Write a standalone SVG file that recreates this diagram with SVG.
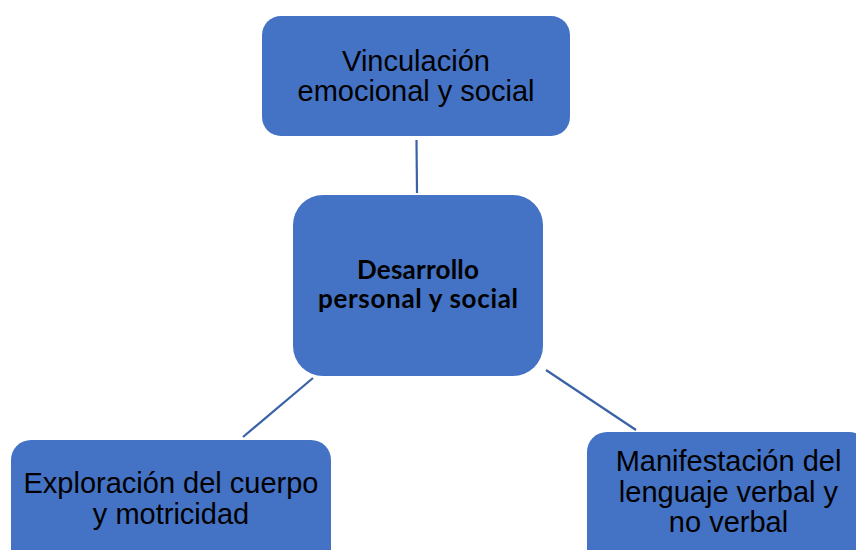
<svg xmlns="http://www.w3.org/2000/svg" width="856" height="550" viewBox="0 0 856 550">
<style>
.box{fill:#4472C4;}
.t{font-family:"Liberation Sans",Arial,sans-serif;font-size:29px;fill:#000;text-anchor:middle;}
.b{font-family:Lato,"Liberation Sans",sans-serif;font-weight:bold;font-size:26px;fill:#000;text-anchor:middle;}
.c{stroke:#3A62A8;stroke-width:2.2;fill:none;}
</style>
<rect width="856" height="550" fill="#fff"/>
<g id="connectors">
<line class="c" x1="416.5" y1="140" x2="417" y2="193"/>
<line class="c" x1="313" y1="378" x2="243" y2="437"/>
<line class="c" x1="546" y1="370" x2="636" y2="430"/>
</g>
<g id="n-vinculacion">
<rect class="box" x="262" y="16" width="308" height="120" rx="19"/>
<text class="t" x="416" y="71">Vinculación</text>
<text class="t" x="416" y="101">emocional y social</text>
</g>
<g id="n-desarrollo">
<rect class="box" x="293" y="195" width="250" height="181" rx="30"/>
<text class="b" x="418" y="279" textLength="122" lengthAdjust="spacing">Desarrollo</text>
<text class="b" x="418" y="308" textLength="200" lengthAdjust="spacing">personal y social</text>
</g>
<g id="n-exploracion">
<rect class="box" x="11" y="440" width="320" height="140" rx="20"/>
<text class="t" x="171" y="493">Exploración del cuerpo</text>
<text class="t" x="171" y="524">y motricidad</text>
</g>
<g id="n-manifestacion">
<rect class="box" x="587" y="432" width="282" height="140" rx="20"/>
<text class="t" x="728.5" y="471">Manifestación del</text>
<text class="t" x="728.5" y="502">lenguaje verbal y</text>
<text class="t" x="728.5" y="532">no verbal</text>
</g>
</svg>
